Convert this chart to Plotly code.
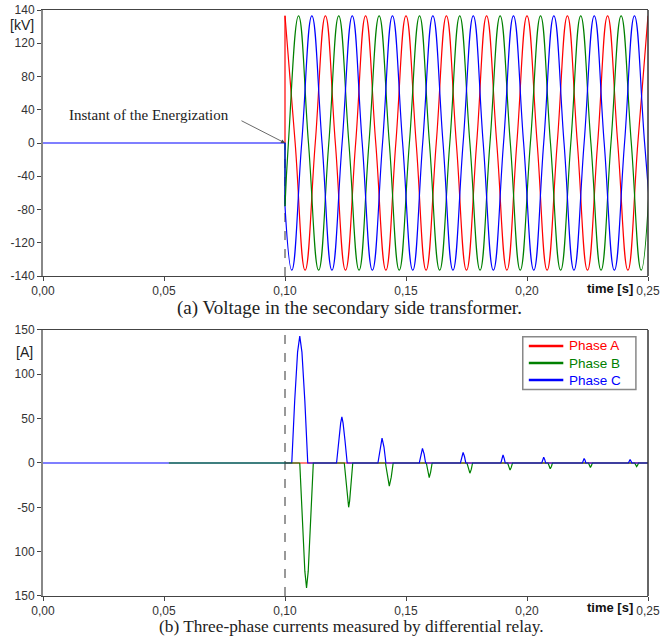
import plotly.graph_objects as go

# ---- (a) secondary voltage [kV], extremes and zero crossings
va_t = [0.1000, 0.1042, 0.1083, 0.1125, 0.1167, 0.1208, 0.1250, 0.1292, 0.1333, 0.1375,
        0.1417, 0.1458, 0.1500, 0.1542, 0.1583, 0.1625, 0.1667, 0.1708, 0.1750, 0.1792,
        0.1833, 0.1875, 0.1917, 0.1958, 0.2000, 0.2042, 0.2083, 0.2125, 0.2167, 0.2208,
        0.2250, 0.2292, 0.2333, 0.2375, 0.2417, 0.2458, 0.2500]
va = [153, 0, -153, 0, 153, 0, -153, 0, 153, 0, -153, 0, 153, 0, -153, 0, 153, 0, -153, 0,
      153, 0, -153, 0, 153, 0, -153, 0, 153, 0, -153, 0, 153, 0, -153, 0, 153]

vb_t = [0.1000, 0.1014, 0.1056, 0.1097, 0.1139, 0.1181, 0.1222, 0.1264, 0.1306, 0.1347,
        0.1389, 0.1431, 0.1472, 0.1514, 0.1556, 0.1597, 0.1639, 0.1681, 0.1722, 0.1764,
        0.1806, 0.1847, 0.1889, 0.1931, 0.1972, 0.2014, 0.2056, 0.2097, 0.2139, 0.2181,
        0.2222, 0.2264, 0.2306, 0.2347, 0.2389, 0.2431, 0.2472, 0.2514]
vb = [-76, 0, 153, 0, -153, 0, 153, 0, -153, 0, 153, 0, -153, 0, 153, 0, -153, 0, 153, 0,
      -153, 0, 153, 0, -153, 0, 153, 0, -153, 0, 153, 0, -153, 0, 153, 0, -153, 0]

vc_t = [0.1000, 0.1028, 0.1069, 0.1111, 0.1153, 0.1194, 0.1236, 0.1278, 0.1319, 0.1361,
        0.1403, 0.1444, 0.1486, 0.1528, 0.1569, 0.1611, 0.1653, 0.1694, 0.1736, 0.1778,
        0.1819, 0.1861, 0.1903, 0.1944, 0.1986, 0.2028, 0.2069, 0.2111, 0.2153, 0.2194,
        0.2236, 0.2278, 0.2319, 0.2361, 0.2403, 0.2444, 0.2486, 0.2528]
vc = [-76, -153, 0, 153, 0, -153, 0, 153, 0, -153, 0, 153, 0, -153, 0, 153, 0, -153, 0, 153,
      0, -153, 0, 153, 0, -153, 0, 153, 0, -153, 0, 153, 0, -153, 0, 153, 0, -153]

# ---- (b) differential relay currents [A]
ia_t = [0.1, 0.25]
ia = [0, 0]

ib_t = [0.052, 0.1061, 0.1073, 0.1082, 0.1089, 0.1096, 0.1105, 0.1117,
        0.1245, 0.1253, 0.1259, 0.1263, 0.1267, 0.1273, 0.1280,
        0.1415, 0.1423, 0.1431, 0.1439, 0.1447,
        0.1584, 0.1590, 0.1596, 0.1602, 0.1608,
        0.1752, 0.1758, 0.1764, 0.1770, 0.1775,
        0.1920, 0.1925, 0.1930, 0.1935, 0.1940,
        0.2087, 0.2091, 0.2096, 0.2101, 0.2105,
        0.2254, 0.2258, 0.2262, 0.2266, 0.2270,
        0.2445, 0.2449, 0.2453, 0.2457, 0.2461, 0.25]
ib = [0, 0, -70, -122, -141, -122, -70, 0,
      0, -24, -43, -50, -43, -24, 0,
      0, -16, -26, -16, 0,
      0, -10, -16.5, -10, 0,
      0, -7, -11.5, -7, 0,
      0, -5, -8, -5, 0,
      0, -4, -6.5, -4, 0,
      0, -3, -5, -3, 0,
      0, -2.5, -4, -2.5, 0, 0]

ic_t = [0.0, 0.1028, 0.1040, 0.1052, 0.1061, 0.1070, 0.1082, 0.1094,
        0.1213, 0.1222, 0.1230, 0.1235, 0.1240, 0.1248, 0.1257,
        0.1384, 0.1393, 0.1401, 0.1409, 0.1417,
        0.1555, 0.1561, 0.1568, 0.1575, 0.1581,
        0.1725, 0.1730, 0.1736, 0.1742, 0.1747,
        0.1892, 0.1896, 0.1901, 0.1906, 0.1910,
        0.2061, 0.2065, 0.2069, 0.2073, 0.2077,
        0.2229, 0.2232, 0.2236, 0.2240, 0.2243,
        0.2419, 0.2422, 0.2426, 0.2430, 0.2433, 0.25]
ic = [0, 0, 70, 125, 143, 125, 70, 0,
      0, 25, 45, 52, 45, 25, 0,
      0, 18, 28, 18, 0,
      0, 10, 16.5, 10, 0,
      0, 7, 12, 7, 0,
      0, 5, 9, 5, 0,
      0, 4, 6.5, 4, 0,
      0, 3, 5, 3, 0,
      0, 2, 4, 2, 0, 0]

phases = ["Phase A", "Phase B", "Phase C"]

t_energ = 0.1
x_ticks = [0, 0.05, 0.10, 0.15, 0.20, 0.25]
x_labels = ["0,00", "0,05", "0,10", "0,15", "0,20", "0,25"]
# the end ticks of the kV axis sit at the frame but are printed as 140
kv_ticks = [-160, -120, -80, -40, 0, 40, 80, 120, 160]
kv_labels = ["-140", "-120", "-80", "-40", "0", "40", "80", "120", "140"]
a_ticks = [-150, -100, -50, 0, 50, 100, 150]
a_labels = ["150", "100", "-50", "0", "50", "100", "150"]

RED, GREEN, BLUE = "#ff0000", "#008000", "#0000ff"
COLORS = [RED, GREEN, BLUE]
SANS = "Liberation Sans, Arial, sans-serif"
SERIF = "Liberation Serif, Times New Roman, serif"

fig = go.Figure()

# voltages: the step at energization (flat part only shown for phase C, it hides the others)
for t, v, c, t0 in [(va_t, va, RED, t_energ), (vb_t, vb, GREEN, t_energ), (vc_t, vc, BLUE, 0)]:
    fig.add_trace(go.Scatter(x=[t0, t_energ, t_energ], y=[0, 0, v[0]], mode="lines",
                             line=dict(color=c, width=1.2), xaxis="x", yaxis="y"))
for t, v, c in [(va_t, va, RED), (vb_t, vb, GREEN), (vc_t, vc, BLUE)]:
    fig.add_trace(go.Scatter(x=t, y=v, mode="lines",
                             line=dict(color=c, width=1.2, shape="spline", smoothing=1.3),
                             xaxis="x", yaxis="y"))

# currents (the green flat part before the first pulse is drawn over the blue one)
for t, i, c, n in [(ia_t, ia, RED, phases[0]), (ib_t[1:], ib[1:], GREEN, phases[1]),
                   (ic_t, ic, BLUE, phases[2]), (ib_t[:2], ib[:2], GREEN, phases[1])]:
    fig.add_trace(go.Scatter(x=t, y=i, mode="lines", line=dict(color=c, width=1.2),
                             name=n, xaxis="x2", yaxis="y2"))

xax = dict(range=[0, 0.25], tickvals=x_ticks, ticktext=x_labels, ticks="outside", ticklen=4,
           tickcolor="#444", showline=True, linecolor="#444", linewidth=1, mirror=True,
           showgrid=False, zeroline=False, automargin=False,
           tickfont=dict(family=SANS, size=12, color="#333"))
yax = dict(ticks="outside", ticklen=4, tickcolor="#444", showline=True, linecolor="#888",
           linewidth=2, showgrid=False, zeroline=False, automargin=False,
           tickfont=dict(family=SANS, size=12, color="#333"))

fig.update_layout(
    width=661, height=638,
    margin=dict(l=43, r=13, t=10, b=42),
    paper_bgcolor="white", plot_bgcolor="white",
    xaxis=dict(xax, anchor="y"),
    yaxis=dict(yax, domain=[0.546, 1], range=[-160, 160], tickvals=kv_ticks, ticktext=kv_labels, anchor="x"),
    xaxis2=dict(xax, anchor="y2"),
    yaxis2=dict(yax, domain=[0, 0.454], range=[-150, 150], tickvals=a_ticks, ticktext=a_labels, anchor="x2"),
    showlegend=False,
)

# frame lines on the right, energization marker
for xr, yr, lo, hi in [("x", "y", -160, 0), ("x2", "y2", -150, 150)]:
    fig.add_shape(type="line", xref=xr, yref=yr, x0=t_energ, x1=t_energ, y0=lo, y1=hi,
                  line=dict(color="#333", width=1, dash="dash"), layer="below")
    fig.add_shape(type="line", xref=xr + " domain", yref=yr + " domain", x0=1, x1=1, y0=0, y1=1,
                  line=dict(color="#333", width=1.5))

# legend box of the current plot
fig.add_shape(type="rect", xref="paper", yref="paper", x0=0.793, x1=0.980, y0=0.3525, y1=0.4425,
              fillcolor="white", line=dict(color="#888", width=1.5))
mid = dict(xanchor="center", yanchor="middle", showarrow=False)
ann = []
for k, c in enumerate(COLORS):
    yk = 0.4266 - k * 0.029
    fig.add_shape(type="line", xref="paper", yref="paper", x0=0.803, x1=0.860, y0=yk, y1=yk,
                  line=dict(color=c, width=2.5))
legend_txt = "<br>".join('<span style="color:%s">%s</span>' % (c, n) for n, c in zip(phases, COLORS))
ann.append(dict(mid, text=legend_txt, xref="paper", yref="paper", x=0.866, y=0.3976,
                xanchor="left", align="left", font=dict(family=SANS, size=13.5)))

ann.append(dict(mid, text="[kV]", xref="paper", yref="y domain", x=-0.034, y=0.944,
                font=dict(family=SANS, size=14, color="#222")))
ann.append(dict(mid, text="[A]", xref="paper", yref="y2 domain", x=-0.03, y=0.918,
                font=dict(family=SANS, size=14, color="#222")))
for yr in ["y domain", "y2 domain"]:
    ann.append(dict(mid, text="<b>time [s]</b>", xref="paper", yref=yr, x=0.978, y=-0.045,
                    xanchor="right", font=dict(family=SANS, size=13, color="#111")))
ann.append(dict(mid, text="(a) Voltage in the secondary side transformer.", xref="paper", yref="y domain",
                x=0.507, y=-0.119, font=dict(family=SERIF, size=19, color="#222")))
ann.append(dict(mid, text="(b) Three-phase currents measured by differential relay.", xref="paper",
                yref="y2 domain", x=0.51, y=-0.115, font=dict(family=SERIF, size=17.3, color="#222")))
ann.append(dict(mid, text="Instant of the Energization", xref="x", yref="y", x=0.044, y=33.7,
                font=dict(family=SERIF, size=15, color="#222")))
ann.append(dict(text="", xref="x", yref="y", x=t_energ, y=0, axref="x", ayref="y",
                ax=0.0814, ay=27.7, showarrow=True, arrowhead=2, arrowsize=1,
                arrowwidth=0.8, arrowcolor="#444"))
fig.update_layout(annotations=ann)

# drop the page's default body margin so the figure fills the window
fig.write_html("out.html", config={"displayModeBar": False},
               post_script="document.body.style.margin='0';")
